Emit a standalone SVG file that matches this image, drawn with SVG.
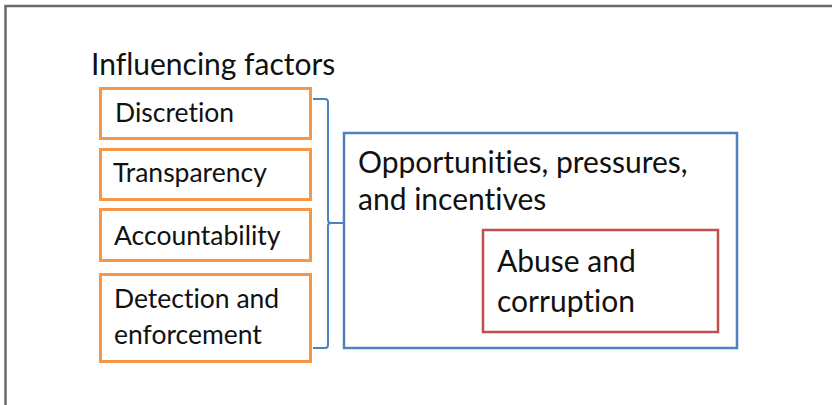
<svg xmlns="http://www.w3.org/2000/svg" width="832" height="405" viewBox="0 0 832 405">
<style>
text{font-family:Lato,"Open Sans","Liberation Sans",sans-serif;fill:#111;font-variant-ligatures:none}
.f{fill:#fff;stroke:#F79646;stroke-width:3}
.t{font-size:26.5px}
.b{font-size:30px}
</style>
<rect width="832" height="405" fill="#fff"/>
<path d="M5.5 405 V6 H832" fill="none" stroke="#6a6a6a" stroke-width="2.5"/>
<text x="91" y="75" style="font-size:30px">Influencing factors</text>
<g id="discretion"><rect class="f" x="100.5" y="88.5" width="210" height="50"/><text class="t" x="115" y="122">Discretion</text></g>
<g id="transparency"><rect class="f" x="100.5" y="149.5" width="210" height="50"/><text class="t" x="113" y="182">Transparency</text></g>
<g id="accountability"><rect class="f" x="100.5" y="209.5" width="210" height="51"/><text class="t" x="114" y="245">Accountability</text></g>
<g id="detection"><rect class="f" x="100.5" y="274.5" width="210" height="87"/><text class="t" x="114" y="308">Detection and</text><text class="t" x="114" y="344">enforcement</text></g>
<g id="connectors"><path d="M313 99 H325 Q328 99 328 102 V220 Q328 223 331 223 H344 M331 223 Q328 223 328 226 V345 Q328 348 325 348 H313" fill="none" stroke="#4F81BD" stroke-width="2"/></g>
<g id="opportunities"><rect x="344" y="133" width="393" height="215" fill="#fff" stroke="#4F81BD" stroke-width="2.5"/><text class="b" x="358" y="173">Opportunities, pressures,</text><text class="b" x="358" y="210">and incentives</text></g>
<g id="abuse"><rect x="483" y="230" width="235" height="102" fill="#fff" stroke="#C0504D" stroke-width="2.5"/><text class="b" x="497" y="272">Abuse and</text><text class="b" x="497" y="312">corruption</text></g>
</svg>
